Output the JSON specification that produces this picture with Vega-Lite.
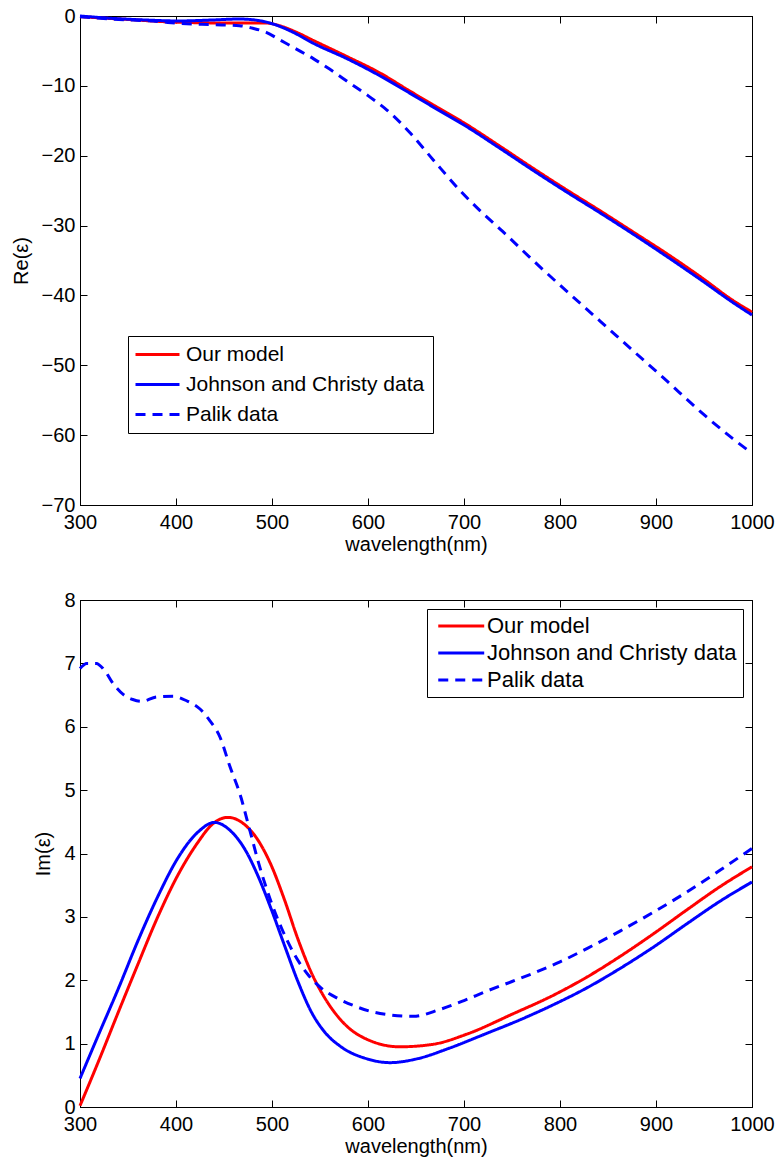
{
  "$schema": "https://vega.github.io/schema/vega-lite/v6.json",
  "background": "white",
  "padding": {"left": 10, "top": 5, "right": 0, "bottom": 0},
  "spacing": 95,
  "bounds": "flush",
  "config": {
    "font": "Liberation Sans",
    "view": {"stroke": "black", "strokeWidth": 1},
    "axis": {
      "labelFont": "Liberation Sans", "labelFontSize": 20, "labelColor": "black",
      "titleFont": "Liberation Sans", "titleFontSize": 20, "titleFontWeight": "normal", "titleColor": "black",
      "domainColor": "black", "tickColor": "black", "tickSize": -7, "labelPadding": 12,
      "grid": false, "labelFlush": false, "labelOverlap": false, "domainWidth": 1, "tickWidth": 1, "format": "d"
    },
    "legend": {
      "title": null, "symbolStrokeWidth": 3, "symbolFillColor": "transparent",
      "labelFont": "Liberation Sans", "labelColor": "black", "strokeColor": "black", "fillColor": "white",
      "labelLimit": 500
    }
  },
  "resolve": {
    "scale": {"color": "independent", "strokeDash": "independent"},
    "legend": {"color": "independent", "strokeDash": "independent"}
  },
  "datasets": {
    "re": [
      {"wavelength": 300, "value": -0.1, "series": "Our model"},
      {"wavelength": 350, "value": -0.5, "series": "Our model"},
      {"wavelength": 403, "value": -0.9, "series": "Our model"},
      {"wavelength": 455, "value": -1.0, "series": "Our model"},
      {"wavelength": 494, "value": -1.0, "series": "Our model"},
      {"wavelength": 508, "value": -1.4, "series": "Our model"},
      {"wavelength": 525, "value": -2.3, "series": "Our model"},
      {"wavelength": 543, "value": -3.5, "series": "Our model"},
      {"wavelength": 578, "value": -5.8, "series": "Our model"},
      {"wavelength": 613, "value": -8.2, "series": "Our model"},
      {"wavelength": 643, "value": -10.7, "series": "Our model"},
      {"wavelength": 670, "value": -12.9, "series": "Our model"},
      {"wavelength": 700, "value": -15.3, "series": "Our model"},
      {"wavelength": 737, "value": -18.6, "series": "Our model"},
      {"wavelength": 772, "value": -21.8, "series": "Our model"},
      {"wavelength": 807, "value": -24.9, "series": "Our model"},
      {"wavelength": 842, "value": -27.9, "series": "Our model"},
      {"wavelength": 876, "value": -30.9, "series": "Our model"},
      {"wavelength": 911, "value": -34.0, "series": "Our model"},
      {"wavelength": 946, "value": -37.3, "series": "Our model"},
      {"wavelength": 980, "value": -40.7, "series": "Our model"},
      {"wavelength": 1000, "value": -42.4, "series": "Our model"},
      {"wavelength": 300, "value": 0, "series": "Johnson and Christy data"},
      {"wavelength": 333, "value": -0.33, "series": "Johnson and Christy data"},
      {"wavelength": 368, "value": -0.57, "series": "Johnson and Christy data"},
      {"wavelength": 403, "value": -0.71, "series": "Johnson and Christy data"},
      {"wavelength": 438, "value": -0.57, "series": "Johnson and Christy data"},
      {"wavelength": 466, "value": -0.43, "series": "Johnson and Christy data"},
      {"wavelength": 487, "value": -0.67, "series": "Johnson and Christy data"},
      {"wavelength": 501, "value": -1.14, "series": "Johnson and Christy data"},
      {"wavelength": 522, "value": -2.33, "series": "Johnson and Christy data"},
      {"wavelength": 543, "value": -3.9, "series": "Johnson and Christy data"},
      {"wavelength": 578, "value": -6.1, "series": "Johnson and Christy data"},
      {"wavelength": 613, "value": -8.6, "series": "Johnson and Christy data"},
      {"wavelength": 643, "value": -11.0, "series": "Johnson and Christy data"},
      {"wavelength": 670, "value": -13.2, "series": "Johnson and Christy data"},
      {"wavelength": 700, "value": -15.6, "series": "Johnson and Christy data"},
      {"wavelength": 737, "value": -18.9, "series": "Johnson and Christy data"},
      {"wavelength": 772, "value": -22.1, "series": "Johnson and Christy data"},
      {"wavelength": 807, "value": -25.2, "series": "Johnson and Christy data"},
      {"wavelength": 842, "value": -28.2, "series": "Johnson and Christy data"},
      {"wavelength": 876, "value": -31.2, "series": "Johnson and Christy data"},
      {"wavelength": 911, "value": -34.4, "series": "Johnson and Christy data"},
      {"wavelength": 946, "value": -37.7, "series": "Johnson and Christy data"},
      {"wavelength": 980, "value": -41.0, "series": "Johnson and Christy data"},
      {"wavelength": 1000, "value": -42.8, "series": "Johnson and Christy data"},
      {"wavelength": 300, "value": -0.1, "series": "Palik data"},
      {"wavelength": 333, "value": -0.43, "series": "Palik data"},
      {"wavelength": 382, "value": -0.8, "series": "Palik data"},
      {"wavelength": 403, "value": -1.05, "series": "Palik data"},
      {"wavelength": 438, "value": -1.24, "series": "Palik data"},
      {"wavelength": 466, "value": -1.38, "series": "Palik data"},
      {"wavelength": 480, "value": -1.76, "series": "Palik data"},
      {"wavelength": 494, "value": -2.33, "series": "Palik data"},
      {"wavelength": 508, "value": -3.4, "series": "Palik data"},
      {"wavelength": 525, "value": -4.7, "series": "Palik data"},
      {"wavelength": 543, "value": -6.1, "series": "Palik data"},
      {"wavelength": 560, "value": -7.6, "series": "Palik data"},
      {"wavelength": 583, "value": -9.8, "series": "Palik data"},
      {"wavelength": 600, "value": -11.4, "series": "Palik data"},
      {"wavelength": 620, "value": -13.5, "series": "Palik data"},
      {"wavelength": 643, "value": -16.6, "series": "Palik data"},
      {"wavelength": 668, "value": -20.6, "series": "Palik data"},
      {"wavelength": 696, "value": -25.0, "series": "Palik data"},
      {"wavelength": 720, "value": -28.3, "series": "Palik data"},
      {"wavelength": 740, "value": -30.8, "series": "Palik data"},
      {"wavelength": 772, "value": -35.0, "series": "Palik data"},
      {"wavelength": 807, "value": -39.4, "series": "Palik data"},
      {"wavelength": 842, "value": -43.7, "series": "Palik data"},
      {"wavelength": 876, "value": -47.9, "series": "Palik data"},
      {"wavelength": 911, "value": -52.2, "series": "Palik data"},
      {"wavelength": 946, "value": -56.6, "series": "Palik data"},
      {"wavelength": 980, "value": -60.5, "series": "Palik data"},
      {"wavelength": 1000, "value": -62.6, "series": "Palik data"}
    ],
    "im": [
      {"wavelength": 300, "value": 0.02, "series": "Our model"},
      {"wavelength": 319, "value": 0.71, "series": "Our model"},
      {"wavelength": 340, "value": 1.5, "series": "Our model"},
      {"wavelength": 360, "value": 2.24, "series": "Our model"},
      {"wavelength": 381, "value": 3.0, "series": "Our model"},
      {"wavelength": 402, "value": 3.66, "series": "Our model"},
      {"wavelength": 423, "value": 4.18, "series": "Our model"},
      {"wavelength": 437, "value": 4.45, "series": "Our model"},
      {"wavelength": 454, "value": 4.57, "series": "Our model"},
      {"wavelength": 472, "value": 4.45, "series": "Our model"},
      {"wavelength": 485, "value": 4.22, "series": "Our model"},
      {"wavelength": 499, "value": 3.82, "series": "Our model"},
      {"wavelength": 513, "value": 3.27, "series": "Our model"},
      {"wavelength": 527, "value": 2.65, "series": "Our model"},
      {"wavelength": 541, "value": 2.12, "series": "Our model"},
      {"wavelength": 555, "value": 1.72, "series": "Our model"},
      {"wavelength": 569, "value": 1.42, "series": "Our model"},
      {"wavelength": 592, "value": 1.12, "series": "Our model"},
      {"wavelength": 633, "value": 0.95, "series": "Our model"},
      {"wavelength": 668, "value": 0.99, "series": "Our model"},
      {"wavelength": 703, "value": 1.15, "series": "Our model"},
      {"wavelength": 751, "value": 1.47, "series": "Our model"},
      {"wavelength": 794, "value": 1.77, "series": "Our model"},
      {"wavelength": 828, "value": 2.05, "series": "Our model"},
      {"wavelength": 863, "value": 2.38, "series": "Our model"},
      {"wavelength": 898, "value": 2.74, "series": "Our model"},
      {"wavelength": 933, "value": 3.12, "series": "Our model"},
      {"wavelength": 967, "value": 3.48, "series": "Our model"},
      {"wavelength": 1000, "value": 3.79, "series": "Our model"},
      {"wavelength": 300, "value": 0.45, "series": "Johnson and Christy data"},
      {"wavelength": 319, "value": 1.13, "series": "Johnson and Christy data"},
      {"wavelength": 340, "value": 1.87, "series": "Johnson and Christy data"},
      {"wavelength": 360, "value": 2.61, "series": "Johnson and Christy data"},
      {"wavelength": 381, "value": 3.32, "series": "Johnson and Christy data"},
      {"wavelength": 402, "value": 3.93, "series": "Johnson and Christy data"},
      {"wavelength": 423, "value": 4.34, "series": "Johnson and Christy data"},
      {"wavelength": 440, "value": 4.49, "series": "Johnson and Christy data"},
      {"wavelength": 458, "value": 4.34, "series": "Johnson and Christy data"},
      {"wavelength": 472, "value": 4.06, "series": "Johnson and Christy data"},
      {"wavelength": 485, "value": 3.66, "series": "Johnson and Christy data"},
      {"wavelength": 499, "value": 3.13, "series": "Johnson and Christy data"},
      {"wavelength": 513, "value": 2.55, "series": "Johnson and Christy data"},
      {"wavelength": 527, "value": 1.98, "series": "Johnson and Christy data"},
      {"wavelength": 541, "value": 1.5, "series": "Johnson and Christy data"},
      {"wavelength": 555, "value": 1.18, "series": "Johnson and Christy data"},
      {"wavelength": 571, "value": 0.96, "series": "Johnson and Christy data"},
      {"wavelength": 599, "value": 0.76, "series": "Johnson and Christy data"},
      {"wavelength": 623, "value": 0.7, "series": "Johnson and Christy data"},
      {"wavelength": 651, "value": 0.76, "series": "Johnson and Christy data"},
      {"wavelength": 685, "value": 0.93, "series": "Johnson and Christy data"},
      {"wavelength": 720, "value": 1.14, "series": "Johnson and Christy data"},
      {"wavelength": 759, "value": 1.38, "series": "Johnson and Christy data"},
      {"wavelength": 794, "value": 1.62, "series": "Johnson and Christy data"},
      {"wavelength": 828, "value": 1.88, "series": "Johnson and Christy data"},
      {"wavelength": 863, "value": 2.19, "series": "Johnson and Christy data"},
      {"wavelength": 898, "value": 2.53, "series": "Johnson and Christy data"},
      {"wavelength": 933, "value": 2.9, "series": "Johnson and Christy data"},
      {"wavelength": 967, "value": 3.25, "series": "Johnson and Christy data"},
      {"wavelength": 1000, "value": 3.55, "series": "Johnson and Christy data"},
      {"wavelength": 300, "value": 6.92, "series": "Palik data"},
      {"wavelength": 307, "value": 7.0, "series": "Palik data"},
      {"wavelength": 317, "value": 7.0, "series": "Palik data"},
      {"wavelength": 325, "value": 6.9, "series": "Palik data"},
      {"wavelength": 335, "value": 6.67, "series": "Palik data"},
      {"wavelength": 345, "value": 6.51, "series": "Palik data"},
      {"wavelength": 355, "value": 6.43, "series": "Palik data"},
      {"wavelength": 364, "value": 6.4, "series": "Palik data"},
      {"wavelength": 380, "value": 6.47, "series": "Palik data"},
      {"wavelength": 397, "value": 6.48, "series": "Palik data"},
      {"wavelength": 411, "value": 6.41, "series": "Palik data"},
      {"wavelength": 425, "value": 6.28, "series": "Palik data"},
      {"wavelength": 435, "value": 6.1, "series": "Palik data"},
      {"wavelength": 446, "value": 5.83, "series": "Palik data"},
      {"wavelength": 456, "value": 5.38, "series": "Palik data"},
      {"wavelength": 467, "value": 4.92, "series": "Palik data"},
      {"wavelength": 477, "value": 4.36, "series": "Palik data"},
      {"wavelength": 487, "value": 3.8, "series": "Palik data"},
      {"wavelength": 499, "value": 3.24, "series": "Palik data"},
      {"wavelength": 510, "value": 2.82, "series": "Palik data"},
      {"wavelength": 524, "value": 2.39, "series": "Palik data"},
      {"wavelength": 538, "value": 2.08, "series": "Palik data"},
      {"wavelength": 551, "value": 1.88, "series": "Palik data"},
      {"wavelength": 569, "value": 1.71, "series": "Palik data"},
      {"wavelength": 585, "value": 1.6, "series": "Palik data"},
      {"wavelength": 605, "value": 1.5, "series": "Palik data"},
      {"wavelength": 625, "value": 1.45, "series": "Palik data"},
      {"wavelength": 647, "value": 1.43, "series": "Palik data"},
      {"wavelength": 675, "value": 1.54, "series": "Palik data"},
      {"wavelength": 700, "value": 1.68, "series": "Palik data"},
      {"wavelength": 724, "value": 1.83, "series": "Palik data"},
      {"wavelength": 750, "value": 1.98, "series": "Palik data"},
      {"wavelength": 772, "value": 2.11, "series": "Palik data"},
      {"wavelength": 800, "value": 2.29, "series": "Palik data"},
      {"wavelength": 828, "value": 2.5, "series": "Palik data"},
      {"wavelength": 863, "value": 2.78, "series": "Palik data"},
      {"wavelength": 898, "value": 3.08, "series": "Palik data"},
      {"wavelength": 933, "value": 3.4, "series": "Palik data"},
      {"wavelength": 967, "value": 3.74, "series": "Palik data"},
      {"wavelength": 1000, "value": 4.08, "series": "Palik data"}
    ]
  },
  "vconcat": [
    {
      "width": 672,
      "height": 489,
      "data": {"name": "re"},
      "layer": [
        {
          "mark": {"type": "line", "strokeWidth": 3, "interpolate": "monotone"},
          "encoding": {
            "x": {"field": "wavelength", "type": "quantitative", "scale": {"domain": [300, 1000], "nice": false, "zero": false},
                  "axis": {"orient": "bottom", "title": "wavelength(nm)", "values": [300, 400, 500, 600, 700, 800, 900, 1000], "labelPadding": 14, "titlePadding": 2}},
            "y": {"field": "value", "type": "quantitative", "scale": {"domain": [-70, 0], "nice": false, "zero": false},
                  "axis": {"orient": "left", "title": "Re(ε)", "values": [-70, -60, -50, -40, -30, -20, -10, 0], "titlePadding": 10}},
            "color": {"field": "series", "type": "nominal",
                      "scale": {"domain": ["Our model", "Johnson and Christy data", "Palik data"], "range": ["#ff0000", "#0000ff", "#0000ff"]},
                      "legend": {"orient": "none", "legendX": 48, "legendY": 320, "symbolType": "M-2,0L6,0", "symbolSize": 121, "labelOffset": 29, "labelFontSize": 21, "padding": 8, "rowPadding": 8}},
            "strokeDash": {"field": "series", "type": "nominal",
                      "scale": {"domain": ["Our model", "Johnson and Christy data", "Palik data"], "range": [[1, 0], [1, 0], [10, 7]]},
                      "legend": {"orient": "none", "legendX": 48, "legendY": 320, "symbolType": "M-2,0L6,0", "symbolSize": 121, "labelOffset": 29, "labelFontSize": 21, "padding": 8, "rowPadding": 8}}
          }
        },
        {
          "mark": {"type": "line", "strokeOpacity": 0},
          "encoding": {
            "x": {"field": "wavelength", "type": "quantitative", "axis": {"orient": "top", "labels": false, "title": null, "values": [300, 400, 500, 600, 700, 800, 900, 1000]}},
            "y": {"field": "value", "type": "quantitative", "axis": {"orient": "right", "labels": false, "title": null, "values": [-70, -60, -50, -40, -30, -20, -10, 0]}},
            "detail": {"field": "series", "type": "nominal"}
          }
        }
      ],
      "resolve": {"axis": {"x": "independent", "y": "independent"}}
    },
    {
      "width": 672,
      "height": 507,
      "data": {"name": "im"},
      "layer": [
        {
          "mark": {"type": "line", "strokeWidth": 3, "interpolate": "monotone"},
          "encoding": {
            "x": {"field": "wavelength", "type": "quantitative", "scale": {"domain": [300, 1000], "nice": false, "zero": false},
                  "axis": {"orient": "bottom", "title": "wavelength(nm)", "values": [300, 400, 500, 600, 700, 800, 900, 1000], "labelPadding": 14, "titlePadding": 2}},
            "y": {"field": "value", "type": "quantitative", "scale": {"domain": [0, 8], "nice": false},
                  "axis": {"orient": "left", "title": "Im(ε)", "values": [0, 1, 2, 3, 4, 5, 6, 7, 8], "titlePadding": 10}},
            "color": {"field": "series", "type": "nominal",
                      "scale": {"domain": ["Our model", "Johnson and Christy data", "Palik data"], "range": ["#ff0000", "#0000ff", "#0000ff"]},
                      "legend": {"orient": "none", "legendX": 347, "legendY": 9, "symbolType": "M-1,0L7,0", "symbolSize": 132, "labelOffset": 32, "labelFontSize": 22, "padding": 6, "rowPadding": 5}},
            "strokeDash": {"field": "series", "type": "nominal",
                      "scale": {"domain": ["Our model", "Johnson and Christy data", "Palik data"], "range": [[1, 0], [1, 0], [10, 7]]},
                      "legend": {"orient": "none", "legendX": 347, "legendY": 9, "symbolType": "M-1,0L7,0", "symbolSize": 132, "labelOffset": 32, "labelFontSize": 22, "padding": 6, "rowPadding": 5}}
          }
        },
        {
          "mark": {"type": "line", "strokeOpacity": 0},
          "encoding": {
            "x": {"field": "wavelength", "type": "quantitative", "axis": {"orient": "top", "labels": false, "title": null, "values": [300, 400, 500, 600, 700, 800, 900, 1000]}},
            "y": {"field": "value", "type": "quantitative", "axis": {"orient": "right", "labels": false, "title": null, "values": [0, 1, 2, 3, 4, 5, 6, 7, 8]}},
            "detail": {"field": "series", "type": "nominal"}
          }
        }
      ],
      "resolve": {"axis": {"x": "independent", "y": "independent"}}
    }
  ]
}
